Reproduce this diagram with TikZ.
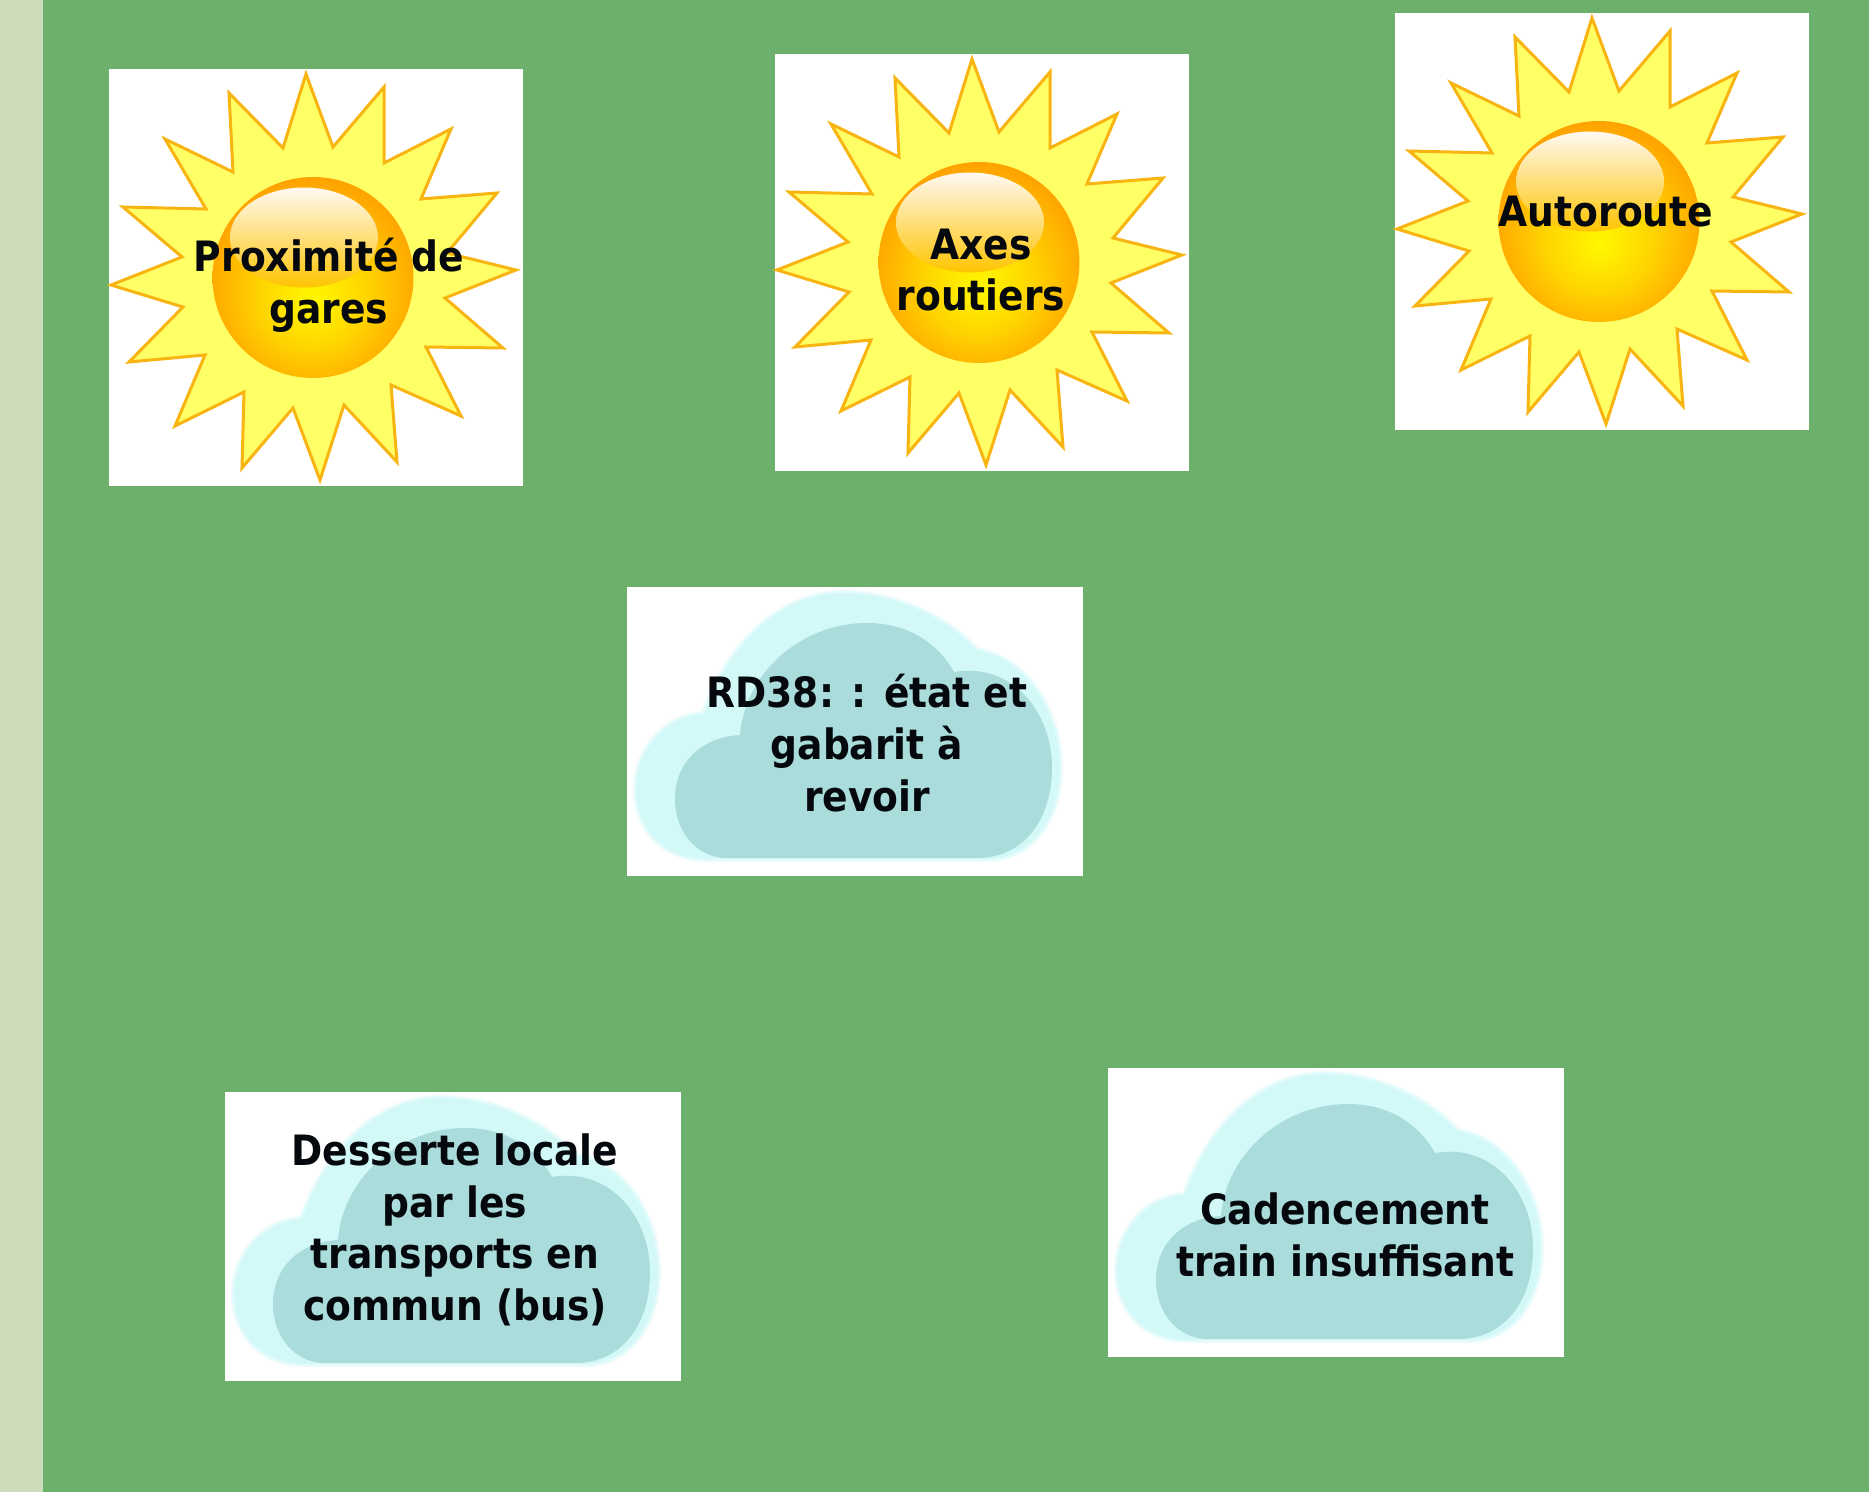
\documentclass[tikz,border=0pt]{standalone}
\usepackage{fontspec}
\setmainfont{DejaVu Sans Condensed}
\definecolor{bggreen}{HTML}{6CB06B}
\definecolor{bandgreen}{HTML}{CDDDBB}
\definecolor{cloudlight}{HTML}{D2F8F8}
\definecolor{cloudmain}{HTML}{ABDCDC}
\definecolor{rayline}{HTML}{F8B410}
\definecolor{textdark}{HTML}{05080C}
\definecolor{rayouter}{HTML}{FFEC10}
\definecolor{raymid}{HTML}{FFF52A}
\definecolor{rayinner}{HTML}{FFFF66}
\definecolor{hlbottom}{HTML}{FFC400}
\definecolor{hlmid}{HTML}{FBDFA0}
\pgfdeclareradialshading{sunrays}{\pgfpoint{0bp}{0bp}}{
  color(0bp)=(rayinner); color(30bp)=(rayinner); color(37bp)=(raymid); color(50bp)=(rayouter)}
\pgfdeclareradialshading{sundisc}{\pgfpoint{0bp}{-6bp}}{
  color(0bp)=(yellow!95!orange); color(14bp)=(yellow!65!orange); color(30bp)=(orange!80!yellow); color(50bp)=(orange!90!yellow)}
\tikzset{
  x=0.5pt, y=-0.5pt,
  label text/.style={font=\bfseries\fontsize{20.9}{25.8}\selectfont, text=textdark, align=center, inner sep=0pt},
  panel/.style={fill=white, draw=none},
  cloud outer/.style={draw=cloudlight!#1!white, line width=2.4pt, fill=cloudlight, line join=round},
}
\newcommand{\sunpic}[2]{%
  \begin{scope}[shift={(#1,#2)}]
    \fill[panel] (0,0) rectangle (414,417);
    \shade[shading=sunrays, draw=rayline, line width=1.5pt, line join=miter]
      (197,5)--(224,78)--(275,18)--(275,94)--(342,60)--(312,130)--(388,124)--(338,184)
      --(407,201)--(336,229)--(394,279)--(317,278)--(352,347)--(282,316)--(288,393)--(235,336)
      --(211,411)--(184,339)--(133,399)--(135,323)--(66,357)--(96,286)--(20,293)--(74,238)
      --(2,216)--(73,188)--(14,138)--(97,140)--(56,70)--(124,103)--(120,24)--(174,79)--cycle;
    \shade[shading=sundisc] (204,208.5) circle [radius=100.5];
    \begin{scope}
      \clip (195,168.5) ellipse [x radius=74, y radius=50];
      \shade[top color=white!95!orange, middle color=hlmid, bottom color=hlbottom] (121,118.5) rectangle (269,218.5);
    \end{scope}
  \end{scope}}
\newcommand{\outerpath}{(80,273) .. controls (35,273) and (8,242) .. (8,202)
      .. controls (8,162) and (38,128) .. (76,126)
      .. controls (105,45) and (162,5) .. (215,5)
      .. controls (270,5) and (320,30) .. (350,62)
      .. controls (405,72) and (434,130) .. (434,180)
      .. controls (434,232) and (405,273) .. (360,273) -- cycle}
\newcommand{\cloudpic}[2]{%
  \begin{scope}[shift={(#1,#2)}]
    \fill[panel] (0,0) rectangle (456,289);
    \draw[cloud outer=25] \outerpath;
    \draw[cloud outer=60, line width=1.2pt] \outerpath;
    \fill[cloudmain]
      (100,271) .. controls (70,271) and (48,245) .. (48,212)
      .. controls (48,175) and (75,150) .. (113,148)
      .. controls (118,85) and (175,36) .. (240,36)
      .. controls (280,36) and (310,55) .. (327,85)
      .. controls (385,75) and (425,125) .. (425,180)
      .. controls (425,235) and (395,271) .. (350,271) -- cycle;
  \end{scope}}
\begin{document}
\begin{tikzpicture}
  \useasboundingbox (0,0) rectangle (1869,1492);
  \fill[bggreen] (0,0) rectangle (1869,1492);
  \fill[bandgreen] (0,0) rectangle (43,1492);
  \sunpic{109}{69}
  \sunpic{775}{54}
  \sunpic{1395}{13}
  \cloudpic{627}{587}
  \cloudpic{225}{1092}
  \cloudpic{1108}{1068}
  \node[label text] (prox) at (329,285) {Proximité de\\gares};
  \node[label text] (axes) at (981,270) {Axes\\routiers};
  \node[label text] (auto) at (1606,212) {Autoroute};
  \node[label text] (rd) at (867,743) {RD38: : état et\\gabarit à\\revoir};
  \node[label text] (bus) at (455,1230) {Desserte locale\\par les\\transports en\\commun (bus)};
  \node[label text] (train) at (1345,1235) {Cadencement\\train insuffisant};
\end{tikzpicture}
\end{document}
